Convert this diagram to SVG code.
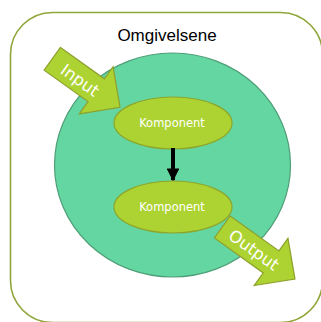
<svg xmlns="http://www.w3.org/2000/svg" width="321" height="322" viewBox="0 0 321 322">
<defs>
<style>
.env{fill:#ffffff;stroke:#8fa63a;stroke-width:1.6}
.sys{fill:#63d6a1;stroke:#4f9e78;stroke-width:1.2}
.comp{fill:#add333;stroke:#8da52a;stroke-width:1.2}
.blk{fill:#add333;stroke:#8ea02c;stroke-width:1.2;stroke-linejoin:miter}
.lbl{font-family:"DejaVu Sans",sans-serif;fill:#ffffff;text-anchor:middle}
.title{font-family:"Liberation Sans",Arial,sans-serif;font-size:17px;fill:#000000;text-anchor:middle}
</style>
<marker id="ah" viewBox="0 0 10 10" refX="9" refY="5" markerWidth="3.2" markerHeight="3.2" orient="auto" markerUnits="strokeWidth">
<path d="M0,0 L10,5 L0,10 Z" fill="#000"/>
</marker>
</defs>
<g id="environment">
<rect class="env" x="10.5" y="12.5" width="312" height="310" rx="42" ry="42"/>
<text class="title" x="167" y="41">Omgivelsene</text>
</g>
<g id="system">
<ellipse class="sys" cx="172.5" cy="165" rx="118" ry="112"/>
</g>
<g id="input">
<g transform="translate(52.3,58.8) rotate(35.6)">
<path class="blk" d="M0,-14 L54,-14 L54,-29 L83.3,0 L54,29 L54,14 L0,14 Z"/>
<text class="lbl" x="35" y="7" font-size="16.5">Input</text>
</g>
</g>
<g id="komponent1">
<ellipse class="comp" cx="173" cy="123" rx="59" ry="26"/>
<text class="lbl" x="172" y="127" font-size="11.5">Komponent</text>
</g>
<g id="komponent2">
<ellipse class="comp" cx="173" cy="207" rx="59" ry="26"/>
<text class="lbl" x="172" y="211" font-size="11.5">Komponent</text>
</g>
<g id="output">
<g transform="translate(222.3,227) rotate(35.6)">
<path class="blk" d="M0,-13.5 L60,-13.5 L60,-29 L89.4,0 L60,29 L60,13.5 L0,13.5 Z"/>
<text class="lbl" x="39" y="6" font-size="16.5">Output</text>
</g>
</g>
<g id="connectors">
<line x1="173" y1="148" x2="173" y2="180" stroke="#000" stroke-width="4" marker-end="url(#ah)"/>
</g>
</svg>
